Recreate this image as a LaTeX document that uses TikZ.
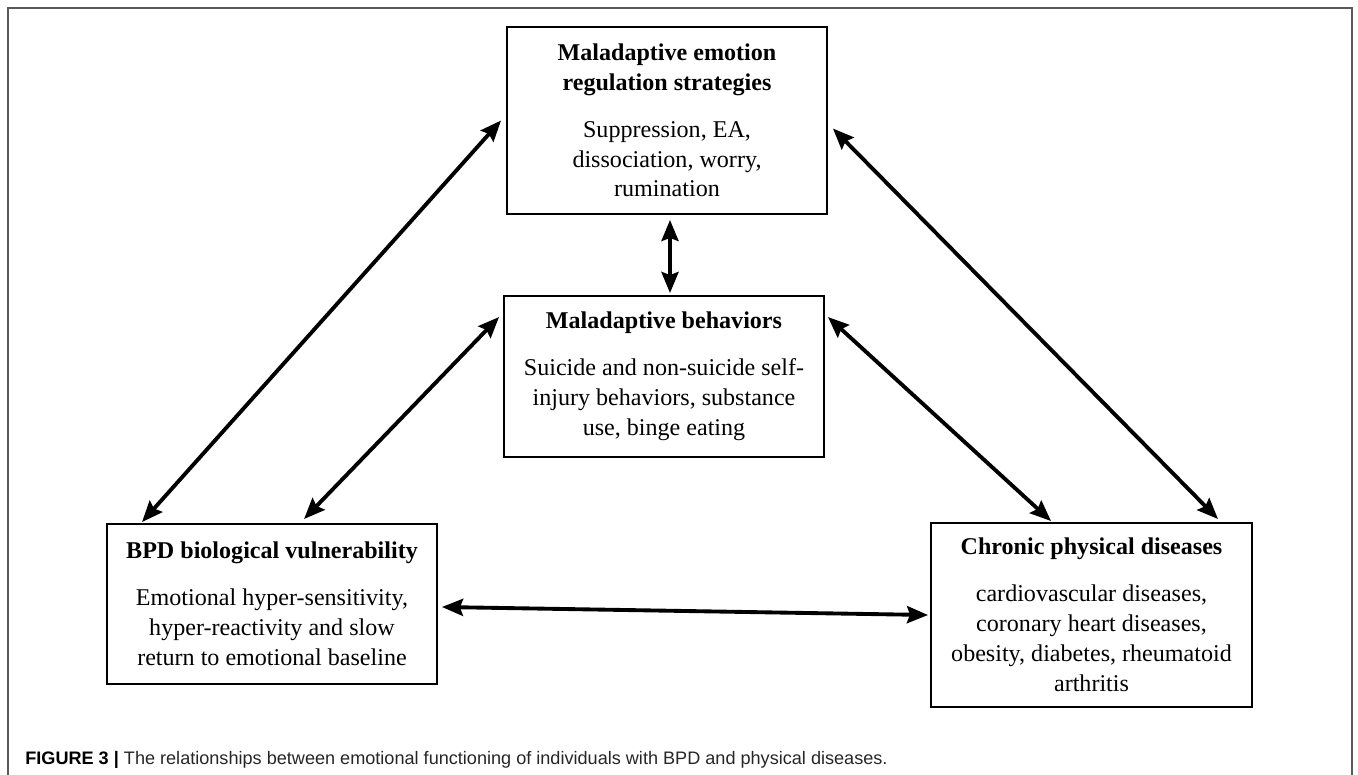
\documentclass[tikz,border=0pt]{standalone}
\usepackage{fontspec}
\setmainfont{Liberation Serif}
\newfontfamily\capfont{Liberation Sans}
\usetikzlibrary{positioning, arrows.meta}

\begin{document}
\begin{tikzpicture}[
    box/.style={rectangle, draw, line width=1.1pt, align=center, inner sep=0pt, font=\fontsize{13.7}{17}\selectfont},
    link/.style={{Stealth[length=0.42cm, width=0.34cm, inset=0.06cm]}-{Stealth[length=0.42cm, width=0.34cm, inset=0.06cm]}, line width=2.2pt},
    caption/.style={font=\capfont\fontsize{10.3}{12}\selectfont, text=black!85, anchor=base west, inner sep=0pt}
]
\useasboundingbox (0,0) rectangle (27.16,15.5);

% outer frame
\draw[black!65, line width=0.8pt] (0.16,-0.2) -- (0.16,15.34) -- (27.04,15.34) -- (27.04,-0.2);

% the four boxes
\node[box, minimum width=6.4cm, minimum height=3.74cm] (mers) at (13.34, 13.09)
    {\textbf{Maladaptive emotion}\\\textbf{regulation strategies}\\[0.34cm]
     Suppression, EA,\\dissociation, worry,\\rumination};
\node[box, minimum width=6.4cm, minimum height=3.22cm] (behav) at (13.28, 7.97)
    {\textbf{Maladaptive behaviors}\\[0.34cm]
     Suicide and non-suicide self-\\injury behaviors, substance\\use, binge eating};
\node[box, minimum width=6.6cm, minimum height=3.2cm] (bpd) at (5.44, 3.42)
    {\textbf{BPD biological vulnerability}\\[0.34cm]
     Emotional hyper-sensitivity,\\hyper-reactivity and slow\\return to emotional baseline};
\node[box, minimum width=6.42cm, minimum height=3.68cm] (cpd) at (21.83, 3.20)
    {\textbf{Chronic physical diseases}\\[0.34cm]
     cardiovascular diseases,\\coronary heart diseases,\\obesity, diabetes, rheumatoid\\arthritis};

% double arrows
\draw[link] ([xshift=0.72cm, yshift=0.02cm]bpd.north west) -- ([xshift=-0.1cm]mers.west);
\draw[link] ([xshift=3.96cm, yshift=0.08cm]bpd.north west) -- ([xshift=-0.08cm, yshift=-0.44cm]behav.north west);
\draw[link] ([xshift=0.06cm, yshift=-0.1cm]mers.south) -- ([xshift=0.12cm, yshift=0.04cm]behav.north);
\draw[link] ([xshift=0.1cm, yshift=-0.16cm]mers.east) -- ([xshift=-0.7cm, yshift=0.06cm]cpd.north east);
\draw[link] ([xshift=0.06cm, yshift=-0.44cm]behav.north east) -- ([xshift=2.42cm, yshift=0.02cm]cpd.north west);
\draw[link] ([xshift=0.08cm, yshift=-0.06cm]bpd.east) -- ([xshift=-0.04cm]cpd.west);

% caption
\node[caption] (capt) at (0.5, 0.22) {\textbf{\color{black}FIGURE 3 |} The relationships between emotional functioning of individuals with BPD and physical diseases.};

\end{tikzpicture}
\end{document}
